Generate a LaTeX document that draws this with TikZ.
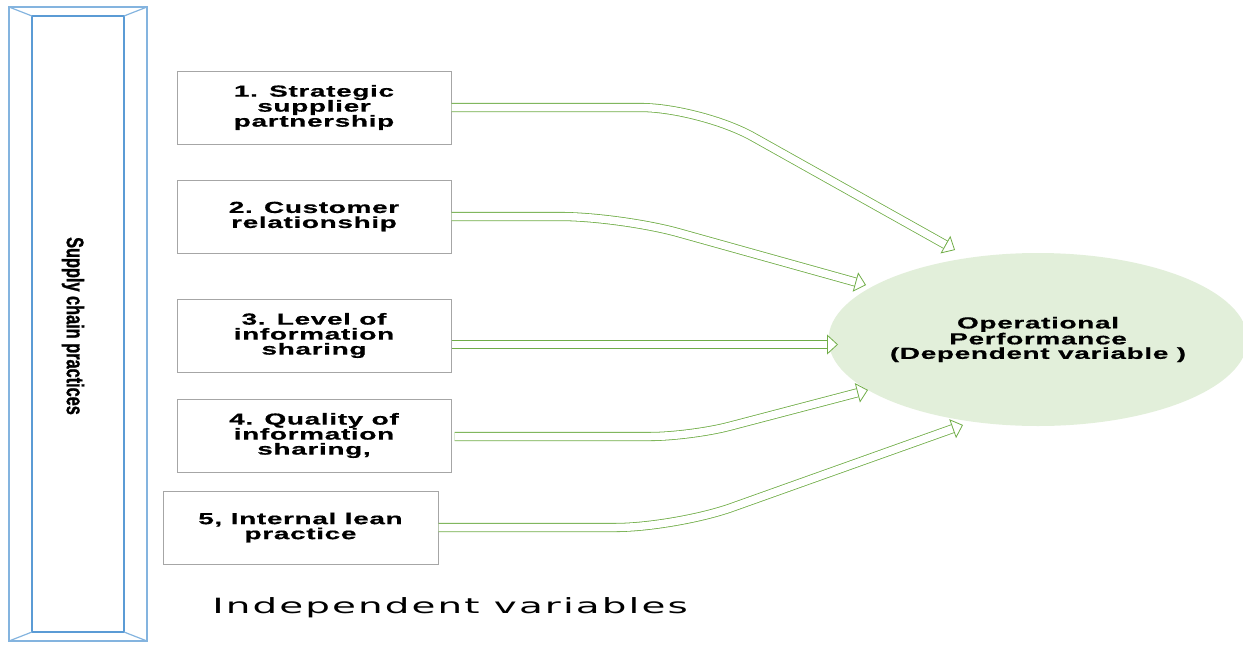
\documentclass[tikz,border=0pt]{standalone}
\usepackage{fontspec}
\usetikzlibrary{shapes.geometric,arrows.meta}
\newfontfamily\boxfont{Liberation Sans}[FakeStretch=1.75,LetterSpace=4,FakeBold=0.6]
\newfontfamily\sidefont{Liberation Sans}[FakeStretch=0.68,FakeBold=1]
\newfontfamily\bottomfont{DejaVu Sans}[FakeStretch=1.85,LetterSpace=10]
\definecolor{arrowgreen}{HTML}{70AD47}
\definecolor{frameblue}{HTML}{5B9BD5}
\definecolor{boxgray}{HTML}{A6A6A6}
\definecolor{opfill}{HTML}{E2EFDA}

\begin{document}
\begin{tikzpicture}[x=1pt,y=-1pt,
    box/.style={draw=boxgray,line width=1pt,minimum width=274pt,minimum height=73pt,inner sep=0pt,align=center,
        font=\boxfont\bfseries\fontsize{16}{15}\selectfont},
    flow/.style={draw=arrowgreen,line width=0.8pt,double=white,double distance=7.5pt,rounded corners=60pt,
        -{Triangle[open,fill=white,line width=0.8pt,length=11pt,width=20pt]}}]
        \useasboundingbox (0,0) rectangle (1243,646);

        % side frame
        \draw [frameblue!75,line width=1.2pt] (9,7) rectangle (147,641);
        \draw [frameblue,line width=2pt] (32,16) rectangle (124,632);
        \draw [frameblue!75,line width=1.2pt] (9,7) -- (32,16) (147,7) -- (124,16) (9,641) -- (32,632) (147,641) -- (124,632);
        \node [rotate=-90,font=\sidefont\bfseries\fontsize{24}{28}\selectfont] (side) at (73,326) {Supply chain practices};

        \node [box] (1) at (314,107.5) {1. Strategic\\supplier\\partnership};
        \node [box] (2) at (314,216.5) {2. Customer\\relationship};
        \node [box] (3) at (314,335.5) {3. Level of\\information\\sharing};
        \node [box] (4) at (314,435.5) {4. Quality of\\information\\sharing,};
        \node [box,minimum width=275pt] (5) at (300.5,527.5) {5, Internal lean\\practice};

        \node [ellipse,fill=opfill,minimum width=410pt,minimum height=173pt,inner sep=0pt,align=center,
            font=\boxfont\bfseries\fontsize{16}{14.5}\selectfont] (6) at (1038,339.5) {Operational\\Performance\\(Dependent variable )};

        \coordinate (t1) at (955,250);
        \coordinate (t2) at (866,285);
        \coordinate (t3) at (838,344.5);
        \coordinate (t4) at (868,390);
        \coordinate (t5) at (963,425);

        \draw [flow] (1.east) -- ++(249,0) -- (t1);
        \draw [flow] (2.east) -- ++(169,0) -- (t2);
        \draw [flow] ([yshift=-9pt]3.east) -- (t3);
        \draw [flow,rounded corners=40pt] ([xshift=3pt,yshift=-1pt]4.east) -- ++(236,0) -- (t4);
        \draw [flow] (5.east) -- ++(237,0) -- (t5);

        \node [font=\bottomfont\fontsize{21}{24}\selectfont,anchor=base] (iv) at (450,613) {Independent variables};
    \end{tikzpicture}
\end{document}
